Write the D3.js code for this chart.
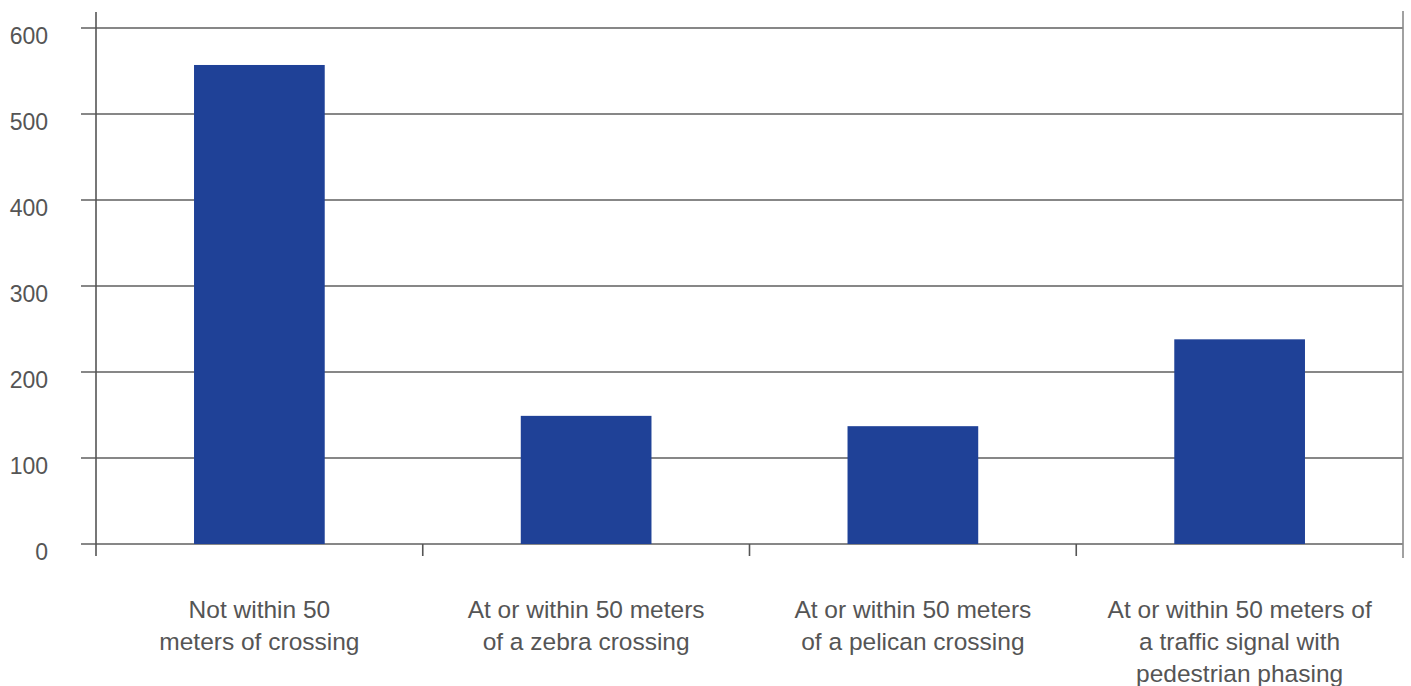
<!DOCTYPE html>
<html>
<head>
<meta charset="utf-8">
<script src="https://cdn.jsdelivr.net/npm/d3@7"></script>
<style>
  html, body { margin: 0; padding: 0; background: #fff; }
  svg { display: block; font-family: "Liberation Sans", Arial, Helvetica, sans-serif; }
</style>
</head>
<body>
<svg id="chart" width="1411" height="686"></svg>
<script>
const categories = [
  "Not within 50\nmeters of crossing",
  "At or within 50 meters\nof a zebra crossing",
  "At or within 50 meters\nof a pelican crossing",
  "At or within 50 meters of\na traffic signal with\npedestrian phasing"
];
const values = [557, 149, 137, 238];
const yTicks = [0, 100, 200, 300, 400, 500, 600];

(function () {
const svg = d3.select("#chart");
const mLeft = 96, mRight = 1403, mTop = 28, mBottom = 544;

const x = d3.scaleBand().domain(categories).range([mLeft, mRight]).paddingInner(0.6).paddingOuter(0.3);
const y = d3.scaleLinear().domain([0, 600]).range([mBottom, mTop]);

// gridlines
svg.append("g").selectAll("line").data(yTicks).join("line")
  .attr("x1", mLeft - 15).attr("x2", mRight)
  .attr("y1", d => y(d)).attr("y2", d => y(d))
  .attr("stroke", "#5f5f5f").attr("stroke-width", 1.6);

// bars
svg.append("g").selectAll("rect").data(values).join("rect")
  .attr("x", (d, i) => x(categories[i]))
  .attr("width", x.bandwidth())
  .attr("y", d => y(d))
  .attr("height", d => y(0) - y(d))
  .attr("fill", "#1f4197");

// left axis line
svg.append("line").attr("x1", mLeft).attr("x2", mLeft).attr("y1", 12).attr("y2", 556)
  .attr("stroke", "#555").attr("stroke-width", 1.6);
// right axis line
svg.append("line").attr("x1", mRight).attr("x2", mRight).attr("y1", 11).attr("y2", 558)
  .attr("stroke", "#8a8a8a").attr("stroke-width", 1.6);

// x ticks at band boundaries
const bounds = d3.range(categories.length + 1).map(i => mLeft + i * (mRight - mLeft) / categories.length);
svg.append("g").selectAll("line").data(bounds.slice(1, -1)).join("line")
  .attr("x1", d => d).attr("x2", d => d).attr("y1", mBottom).attr("y2", 556)
  .attr("stroke", "#555").attr("stroke-width", 1.6);

// y labels
svg.append("g").selectAll("text").data(yTicks).join("text")
  .attr("x", 48).attr("y", d => y(d) + 16)
  .attr("text-anchor", "end")
  .attr("font-size", 23).attr("fill", "#555")
  .text(d => d);

// x labels
const xl = svg.append("g").selectAll("text").data(categories).join("text")
  .attr("text-anchor", "middle")
  .attr("font-size", 24.5).attr("fill", "#555")
  .attr("transform", d => `translate(${x(d) + x.bandwidth() / 2},618)`);
xl.selectAll("tspan").data(d => d.split("\n")).join("tspan")
  .attr("x", 0).attr("y", (d, i) => i * 32)
  .text(d => d);
})();
</script>
</body>
</html>
